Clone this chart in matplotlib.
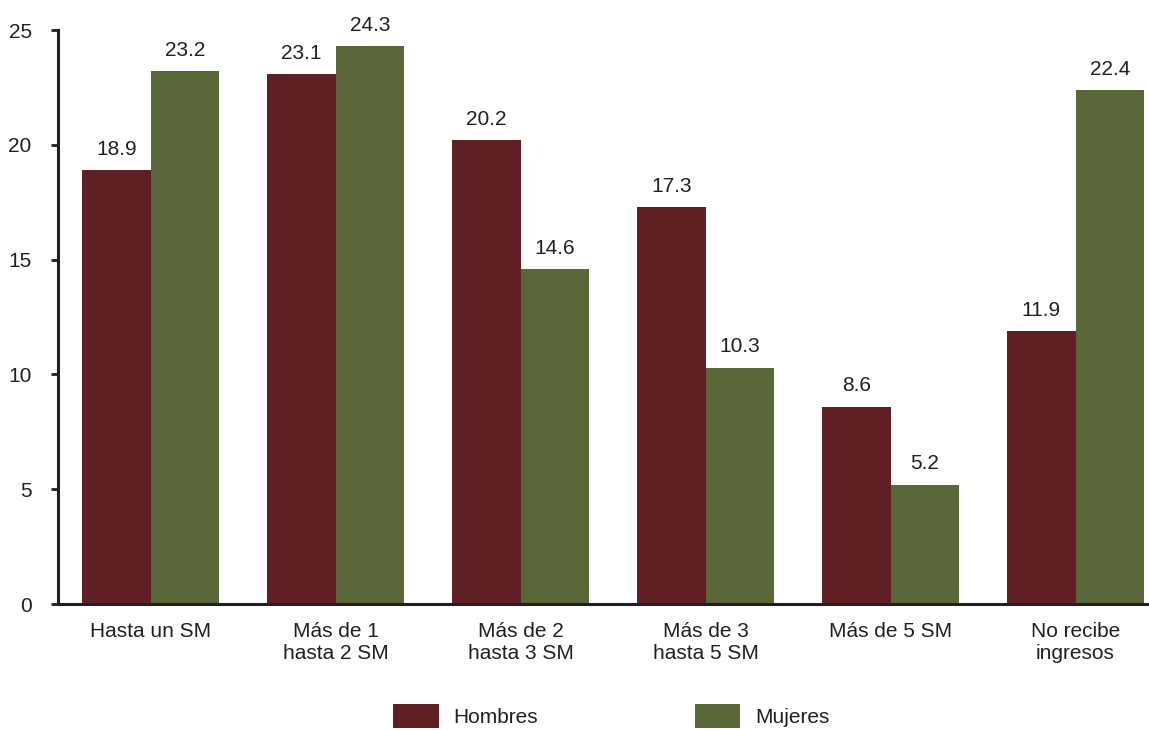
import matplotlib
matplotlib.use("Agg")
import matplotlib.pyplot as plt
import numpy as np

plt.rcParams['font.family'] = ['Liberation Sans', 'DejaVu Sans']

categories = ["Hasta un SM", "Más de 1\nhasta 2 SM", "Más de 2\nhasta 3 SM",
              "Más de 3\nhasta 5 SM", "Más de 5 SM", "No recibe\ningresos"]
hombres = [18.9, 23.1, 20.2, 17.3, 8.6, 11.9]
mujeres = [23.2, 24.3, 14.6, 10.3, 5.2, 22.4]
yticks = [0, 5, 10, 15, 20, 25]

c_h = "#5f1f24"
c_m = "#586638"
tc = "#231f20"
fs = 15

fig = plt.figure(figsize=(11.49, 7.30), dpi=100)
ax = fig.add_axes([0.0505, 0.1726, 0.9495, 0.7863])

x = np.arange(len(categories))
w = 0.37
bh = ax.bar(x - w/2, hombres, w, color=c_h, label="Hombres")
bm = ax.bar(x + w/2, mujeres, w, color=c_m, label="Mujeres")

for rects, vals in ((bh, hombres), (bm, mujeres)):
    for r, v in zip(rects, vals):
        ax.annotate(f"{v:.1f}", (r.get_x() + r.get_width()/2, v),
                    xytext=(0, 8), textcoords="offset points",
                    ha="center", va="bottom", fontsize=fs, color=tc)

ax.set_xlim(-0.5, 5.397)
ax.set_ylim(0, 25)
ax.set_yticks(yticks)
ax.set_yticklabels([str(t) for t in yticks], fontsize=fs, color=tc)
ax.set_xticks(x)
ax.set_xticklabels(categories, fontsize=fs, color=tc, linespacing=1.2)
ax.tick_params(axis='x', length=0, pad=13)
ax.tick_params(axis='y', length=5, width=2, color=tc, pad=14, direction='out')
for s in ("top", "right"):
    ax.spines[s].set_visible(False)
for s in ("left", "bottom"):
    ax.spines[s].set_linewidth(2.2)
    ax.spines[s].set_color(tc)

leg = fig.legend(handles=[bh, bm], labels=["Hombres", "Mujeres"],
                 loc="center", bbox_to_anchor=(0.532, 0.019), ncol=2,
                 frameon=False, fontsize=fs, handlelength=2.2, handleheight=1.35,
                 columnspacing=7.5, handletextpad=0.72, borderpad=0)
for t in leg.get_texts():
    t.set_color(tc)

fig.savefig("out.png", dpi=100)
